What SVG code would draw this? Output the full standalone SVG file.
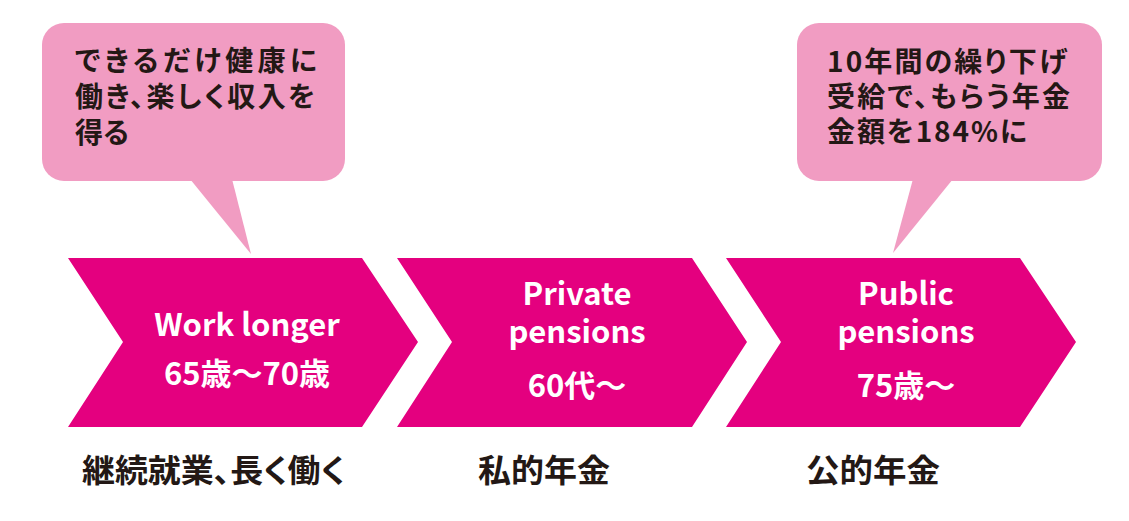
<svg xmlns="http://www.w3.org/2000/svg" width="1129" height="521" viewBox="0 0 1129 521">
  <style>
    .chev { fill: #E4007F; }
    .bub { fill: #F19CC2; }
    .t { font-family: "Noto Sans CJK JP", "Noto Sans", sans-serif; font-weight: 700; }
    .dark { fill: #231815; font-size: 28px; font-feature-settings: "palt"; }
    .w { fill: #FFFFFF; font-size: 31px; text-anchor: middle; }
    .lab { fill: #231815; font-size: 32px; font-feature-settings: "palt"; }
  </style>
  <rect width="1129" height="521" fill="#FFFFFF"/>

  <g id="bubble-work">
    <rect class="bub" x="42" y="23" width="303" height="158" rx="22" ry="22"/>
    <polygon class="bub" points="190,179 232,179 251,254"/>
    <text class="t dark" x="75" y="71" textLength="242" lengthAdjust="spacing">できるだけ健康に</text>
    <text class="t dark" x="75" y="107" textLength="240" lengthAdjust="spacing">働き、楽しく収入を</text>
    <text class="t dark" x="75" y="143">得る</text>
  </g>

  <g id="bubble-public">
    <rect class="bub" x="797" y="23" width="305" height="158" rx="22" ry="22"/>
    <polygon class="bub" points="913,179 953,179 893,253"/>
    <text class="t dark" x="827" y="72" textLength="240" lengthAdjust="spacing">10年間の繰り下げ</text>
    <text class="t dark" x="827" y="107" textLength="243" lengthAdjust="spacing">受給で、もらう年金</text>
    <text class="t dark" x="827" y="142" textLength="200" lengthAdjust="spacing">金額を184%に</text>
  </g>

  <g id="node-work">
    <polygon class="chev" points="68,258 362,258 418,342 362,427 68,427 123,342"/>
    <text class="t w" x="247" y="336">Work longer</text>
    <text class="t w" x="247" y="385">65歳～70歳</text>
    <text class="t lab" x="82" y="482" textLength="263" lengthAdjust="spacingAndGlyphs">継続就業、長く働く</text>
  </g>

  <g id="node-private">
    <polygon class="chev" points="397,258 692,258 747,342 692,427 397,427 452,342"/>
    <text class="t w" x="577" y="305">Private</text>
    <text class="t w" x="577" y="343">pensions</text>
    <text class="t w" x="577" y="397">60代～</text>
    <text class="t lab" x="478" y="482" textLength="132" lengthAdjust="spacingAndGlyphs">私的年金</text>
  </g>

  <g id="node-public">
    <polygon class="chev" points="726,258 1020,258 1076,342 1020,427 726,427 781,342"/>
    <text class="t w" x="906" y="305">Public</text>
    <text class="t w" x="906" y="343">pensions</text>
    <text class="t w" x="906" y="397">75歳～</text>
    <text class="t lab" x="806" y="482" textLength="134" lengthAdjust="spacingAndGlyphs">公的年金</text>
  </g>

  <g id="connectors"></g>
</svg>
